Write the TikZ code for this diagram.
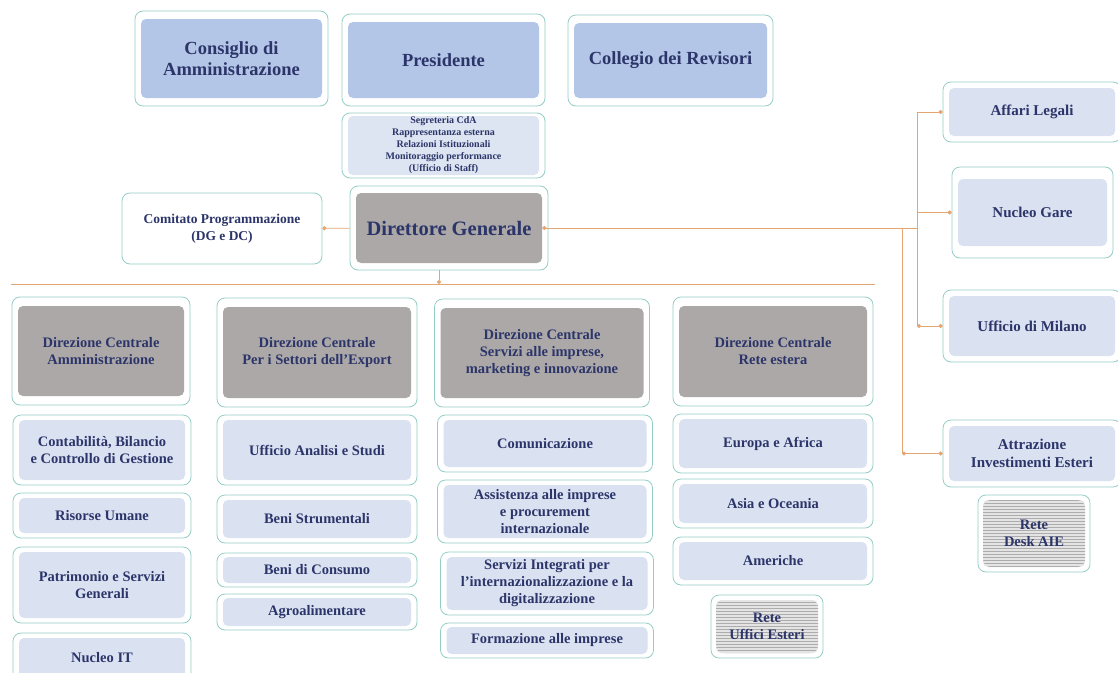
\documentclass[tikz,border=0pt]{standalone}
\usepackage{fontspec}
\setmainfont{Liberation Serif}
\usetikzlibrary{arrows.meta,positioning,patterns}

\definecolor{frame}{HTML}{93CEC6}
\definecolor{topblue}{HTML}{B4C6E7}
\definecolor{subblue}{HTML}{DAE2F2}
\definecolor{staffblue}{HTML}{DDE5F2}
\definecolor{headgray}{HTML}{ACA8A8}
\definecolor{navy}{HTML}{2C3569}
\definecolor{linkorange}{HTML}{E3A673}
\definecolor{netgray}{HTML}{E4E4E4}
\definecolor{netline}{HTML}{ACACAC}

\begin{document}
\begin{tikzpicture}[x=1pt,y=-1pt,
	inner/.style 2 args={path picture={\fill[#1,rounded corners=5pt] ([shift={(6pt,#2)}]path picture bounding box.south west) rectangle ([shift={(-6pt,-#2)}]path picture bounding box.north east);}},
	hatch/.style={path picture={
		\fill[netgray,rounded corners=5pt] ([shift={(5pt,5pt)}]path picture bounding box.south west) rectangle ([shift={(-5pt,-5pt)}]path picture bounding box.north east);
		\fill[pattern=horizontal lines,pattern color=netline] ([shift={(5pt,5pt)}]path picture bounding box.south west) rectangle ([shift={(-5pt,-5pt)}]path picture bounding box.north east);}}]
	\tikzstyle{box}=[draw=frame,fill=white,rounded corners=8pt,line width=0.8pt,align=center,text=navy,inner sep=0pt]
	\tikzstyle{top}=[box,inner={topblue}{8pt},font=\bfseries\fontsize{18.5}{21.5}\selectfont]
	\tikzstyle{staff}=[box,inner={staffblue}{3pt},font=\bfseries\fontsize{10}{12}\selectfont]
	\tikzstyle{head}=[box,inner={headgray}{9pt},font=\bfseries\fontsize{14.5}{17}\selectfont]
	\tikzstyle{sub}=[box,inner={subblue}{5pt},font=\bfseries\fontsize{14.5}{17}\selectfont]
	\tikzstyle{side}=[box,inner={subblue}{6pt},font=\bfseries\fontsize{15}{18}\selectfont]
	\tikzstyle{net}=[box,hatch,font=\bfseries\fontsize{14.5}{17}\selectfont]
	\tikzstyle{link}=[draw=linkorange,line width=0.9pt]

	\useasboundingbox (0,0) rectangle (1118,672);

	% vertice
	\node[top,minimum width=193,minimum height=95] (CDA) at (231.5,58.5) {Consiglio di\\Amministrazione};
	\node[top,minimum width=203,minimum height=92] (PRES) at (443.5,60) {Presidente};
	\node[top,minimum width=205,minimum height=91] (COLL) at (670.5,60.5) {Collegio dei Revisori};
	\node[staff,minimum width=203,minimum height=65] (STAFF) at (443.5,145.5) {Segreteria CdA\\Rappresentanza esterna\\Relazioni Istituzionali\\Monitoraggio performance\\(Ufficio di Staff)};
	\node[box,inner={headgray}{7pt},minimum width=198,minimum height=84,font=\bfseries\fontsize{20.5}{24}\selectfont] (DG) at (449,228) {Direttore Generale};
	\node[box,minimum width=200,minimum height=71,font=\bfseries\fontsize{13.5}{17}\selectfont] (CP) at (222,228.5) {Comitato Programmazione\\(DG e DC)};

	% uffici a destra
	\node[side,minimum width=178,minimum height=60] (AL) at (1032,112) {Affari Legali};
	\node[side,inner={subblue}{12pt},minimum width=161,minimum height=91] (NG) at (1032.5,212.5) {Nucleo Gare};
	\node[side,minimum width=178,minimum height=72] (UM) at (1032,326) {Ufficio di Milano};
	\node[side,minimum width=178,minimum height=67] (AIE) at (1032,453.5) {Attrazione\\Investimenti Esteri};
	\node[net,minimum width=112,minimum height=77] (DESK) at (1034,533.5) {Rete\\Desk AIE};

	% Direzione Centrale Amministrazione
	\node[head,minimum width=178,minimum height=108] (DCA) at (101,351) {Direzione Centrale\\Amministrazione};
	\node[sub,minimum width=178,minimum height=70] (CBG) at (102,450) {Contabilità, Bilancio\\e Controllo di Gestione};
	\node[sub,minimum width=178,minimum height=45] (RU) at (102,515.5) {Risorse Umane};
	\node[sub,minimum width=178,minimum height=76] (PSG) at (102,585) {Patrimonio e Servizi\\Generali};
	\node[sub,minimum width=178,minimum height=50] (NIT) at (102,658) {Nucleo IT};

	% Direzione Centrale Export
	\node[head,minimum width=200,minimum height=109] (DCE) at (317,352.5) {Direzione Centrale\\Per i Settori dell’Export};
	\node[sub,minimum width=200,minimum height=70] (UAS) at (317,450) {Ufficio Analisi e Studi};
	\node[sub,minimum width=200,minimum height=48] (BS) at (317,519) {Beni Strumentali};
	\node[sub,inner={subblue}{4pt},minimum width=200,minimum height=34] (BC) at (317,570) {Beni di Consumo};
	\node[sub,inner={subblue}{4pt},minimum width=200,minimum height=36] (AGR) at (317,612) {Agroalimentare};

	% Direzione Centrale Servizi
	\node[head,minimum width=215,minimum height=108] (DCS) at (542,353) {Direzione Centrale\\Servizi alle imprese,\\marketing e innovazione};
	\node[sub,minimum width=215,minimum height=57] (COM) at (545,443.5) {Comunicazione};
	\node[sub,minimum width=215,minimum height=63] (ASS) at (545,511.5) {Assistenza alle imprese\\e procurement\\internazionale};
	\node[sub,minimum width=213,minimum height=63] (SIN) at (547,583.5) {Servizi Integrati per\\l’internazionalizzazione e la\\digitalizzazione};
	\node[sub,inner={subblue}{4pt},minimum width=213,minimum height=35] (FOR) at (547,640.5) {Formazione alle imprese};

	% Direzione Centrale Rete estera
	\node[head,minimum width=200,minimum height=109] (DCR) at (773,351.5) {Direzione Centrale\\Rete estera};
	\node[sub,minimum width=200,minimum height=59] (EA) at (773,443.5) {Europa e Africa};
	\node[sub,minimum width=200,minimum height=49] (AO) at (773,503.5) {Asia e Oceania};
	\node[sub,minimum width=200,minimum height=48] (AM) at (773,561) {Americhe};
	\node[net,minimum width=112,minimum height=63] (RUE) at (767,626.5) {Rete\\Uffici Esteri};

	% collegamenti
	\coordinate (B1) at (917,112);
	\coordinate (B2) at (B1 |- NG);
	\coordinate (B3) at (917,326);
	\coordinate (B4) at (902,228);
	\coordinate (B5) at (B4 |- AIE);
	\coordinate (L0) at (11,284);
	\coordinate (L1) at (875,284);

	\draw[link,-{Circle[length=4pt]}] (DG) -- (CP);
	\draw[link,{Circle[length=4pt]}-] ([xshift=-6pt]DG.east) -- (DG.east -| B1);
	\draw[link] (B1) -- (B3);
	\draw[link,-{Circle[length=4pt]}] (B1) -- (AL);
	\draw[link,-{Circle[length=4pt]}] (B2) -- (NG);
	\draw[link,{Circle[length=4pt]}-{Circle[length=4pt]}] (B3) -- (UM);
	\draw[link] (B4) -- (B5);
	\draw[link,{Circle[length=4pt]}-{Circle[length=4pt]}] (B5) -- (AIE);
	\draw[link] (L0) -- (L1);
	\draw[link,-{Circle[length=4pt]}] ([xshift=-10pt]DG.south) -- ([xshift=-10pt]DG.south |- L0);
\end{tikzpicture}
\end{document}
